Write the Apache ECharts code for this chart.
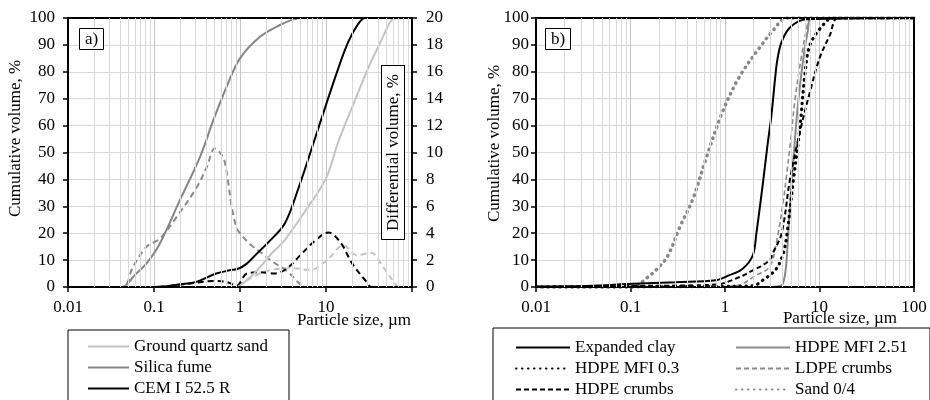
<!DOCTYPE html>
<html><head><meta charset="utf-8">
<script src="https://cdn.jsdelivr.net/npm/echarts@6/dist/echarts.min.js"></script>
<style>html,body{margin:0;padding:0;background:#fff}#c{width:930px;height:400px}</style>
</head><body><div id="c"></div>
<script>
// ---------- data (particle size in µm, volume in %) ----------
// Chart a) cumulative (left axis) and differential (right axis)
const quartzX      = [0.01, 0.9, 1.0, 1.3, 1.71, 2.26, 2.92, 3.33, 5.66, 10, 13.9, 19.9, 30.9, 45, 58.1, 70, 100];
const quartzCum    = [0, 0, 0.5, 3.5, 7.4, 12, 15.5, 17.5, 28, 40.4, 54, 66.4, 81.3, 92.4, 99.3, 100, 100];
const quartzDiffX  = [0.01, 0.9, 1.0, 1.43, 2.2, 4.2, 6.5, 10.3, 16, 22.7, 33.5, 46, 66, 73, 100];
const quartzDiff   = [0, 0, 0.2, 0.75, 1.25, 1.4, 1.25, 2.0, 3.1, 2.36, 2.55, 1.5, 0.13, 0, 0];

const silicaX      = [0.01, 0.043, 0.05, 0.06, 0.082, 0.117, 0.2, 0.343, 0.49, 0.7, 1.0, 1.71, 2.92, 4.2, 5.5, 100];
const silicaCum    = [0, 0, 1.5, 4.5, 8.8, 16.2, 32.3, 48.4, 62, 74.5, 85, 93, 97.4, 99.5, 100, 100];
const silicaDiffX  = [0.01, 0.043, 0.057, 0.082, 0.117, 0.183, 0.313, 0.41, 0.51, 0.64, 0.72, 0.8, 0.91, 1.0, 1.3, 1.71, 2.5, 3.5, 5, 5.5, 100];
const silicaDiff   = [0, 0, 1.5, 3.0, 3.6, 5.2, 7.4, 8.9, 10.3, 9.6, 8, 6, 4.4, 4.0, 3.2, 2.6, 1.8, 1.2, 0.2, 0, 0];

const cemX         = [0.01, 0.1, 0.14, 0.2, 0.31, 0.53, 0.76, 0.95, 1.2, 1.57, 2.26, 3.33, 4.78, 6.82, 10, 13.9, 18.2, 23.9, 28.5, 100];
const cemCum       = [0, 0, 0.3, 1, 1.9, 5.0, 6.2, 6.8, 8.7, 12.4, 17.4, 23.7, 36.7, 51.5, 67.7, 81.3, 91.2, 98, 100, 100];
const cemDiffX     = [0.01, 0.1, 0.26, 0.49, 0.7, 0.91, 1.2, 1.71, 2.5, 3.5, 5, 7.5, 10.6, 14.6, 20.2, 29.7, 34, 100];
const cemDiff      = [0, 0, 0.25, 0.45, 0.37, 0.1, 1.0, 1.1, 1.0, 1.37, 2.35, 3.45, 4.05, 3.35, 1.74, 0.37, 0, 0];

// Chart b) cumulative
const clayX        = [0.01, 0.034, 0.106, 0.3, 0.8, 1.1, 1.54, 1.97, 2.15, 2.53, 2.8, 3.1, 3.4, 3.6, 3.98, 4.87, 7.3, 100];
const clayCum      = [0.2, 0.4, 1.2, 1.8, 2.5, 4.3, 6.8, 11.8, 20, 39.2, 52, 63.9, 78, 85, 91.2, 96.5, 99.5, 100];
const hdpe251X     = [0.01, 3.0, 3.8, 4.1, 4.4, 4.6, 5.0, 5.5, 6.0, 6.75, 7.5, 8.2, 100];
const hdpe251Cum   = [0, 0, 0.4, 1.2, 6.8, 16, 36, 55, 70, 85, 95, 100, 100];
const hdpe03X      = [0.01, 1.0, 2.0, 2.51, 3.0, 3.5, 4.1, 4.5, 5.27, 6.2, 7.0, 7.94, 10.9, 13.8, 100];
const hdpe03Cum    = [0, 0.2, 0.5, 2.5, 4.5, 6.8, 12, 19, 39.2, 59, 78.8, 90, 97.4, 100, 100];
const ldpeX        = [0.01, 1.0, 1.44, 2.1, 2.95, 3.52, 4.14, 4.5, 4.87, 5.52, 6.48, 7.6, 8.2, 100];
const ldpeCum      = [0, 0.3, 0.8, 4.3, 7.4, 17, 32, 42, 52, 70, 86.2, 98.6, 100, 100];
const hdpeCrX      = [0.01, 0.114, 0.8, 1.3, 1.97, 2.95, 3.25, 3.98, 4.87, 6.2, 7.94, 10, 12.9, 15.8, 100];
const hdpeCrCum    = [0.1, 0.4, 0.9, 3.1, 6.2, 9.9, 13, 20, 40, 57.7, 72.6, 85, 93.7, 100, 100];
const sandX        = [0.01, 0.1, 0.116, 0.146, 0.2, 0.25, 0.334, 0.46, 0.64, 0.96, 1.44, 2.36, 3.25, 4.5, 100];
const sandCum      = [0, 0, 0.5, 3.1, 7.4, 11.8, 22.4, 33, 48.5, 65.8, 78.5, 89.3, 95.5, 100, 100];

// axis ticks / labels
const xTickValues  = [0.01, 0.1, 1, 10, 100];
const xTickLabelsA = ['0.01', '0.1', '1', '10', ''];
const xTickLabelsB = ['0.01', '0.1', '1', '10', '100'];
const minorGridX   = [0.02,0.03,0.04,0.05,0.06,0.07,0.08,0.09, 0.2,0.3,0.4,0.5,0.6,0.7,0.8,0.9,
                      2,3,4,5,6,7,8,9, 20,30,40,50,60,70,80,90];

// ---------- chart ----------
const FONT = 'Liberation Serif';
const txt = {fontFamily: FONT, fontSize: 17, color: '#000'};
function pairs(xs, ys) { return xs.map((x, i) => [x, ys[i]]); }
function labelOf(labels) {
  return v => { const i = xTickValues.findIndex(t => Math.abs(Math.log10(t) - Math.log10(v)) < 1e-6); return i < 0 ? '' : labels[i]; };
}

function xAxis(grid, labels) {
  return {
    type: 'log', logBase: 10, min: 0.01, max: 100, gridIndex: grid, splitNumber: 4,
    nameLocation: 'end', name: 'Particle size, µm', nameMoveOverlap: false,
    axisLine: {show: true, lineStyle: {color: '#000', width: 2}},
    axisTick: {show: true, inside: false, length: 5, lineStyle: {color: '#000', width: 1.5}},
    axisLabel: Object.assign({margin: 12, formatter: labelOf(labels)}, txt),
    splitLine: {show: true, lineStyle: {color: '#c4c4c4', width: 1}},
    minorTick: {show: false}, minorSplitLine: {show: false}
  };
}
function yAxisCum(grid, gap, margin, shift) {
  return {
    type: 'value', min: 0, max: 100, interval: 10, gridIndex: grid, position: 'left',
    name: 'Cumulative volume, %', nameLocation: 'middle', nameGap: gap, nameMoveOverlap: false,
    nameTextStyle: Object.assign({padding: [0, 0, 0, shift]}, txt),
    axisLine: {show: true, lineStyle: {color: '#000', width: 2}},
    axisTick: {show: true, inside: false, length: 5, lineStyle: {color: '#000', width: 1.5}},
    axisLabel: Object.assign({margin: margin}, txt),
    splitLine: {show: true, lineStyle: {color: '#d9d9d9', width: 1}}
  };
}

const xa = xAxis(0, xTickLabelsA);
xa.nameGap = -1;
xa.nameTextStyle = Object.assign({align: 'right', verticalAlign: 'top', padding: [25, 0, 0, 0]}, txt);
const xb = xAxis(1, xTickLabelsB);
xb.nameGap = -17;
xb.nameTextStyle = Object.assign({align: 'right', verticalAlign: 'top', padding: [23, 0, 0, 0]}, txt);

function line(name, xs, ys, xi, yi, color, width, type, z) {
  return {
    name: name, type: 'line', xAxisIndex: xi, yAxisIndex: yi, data: pairs(xs, ys),
    symbol: 'none', smooth: 0.35, z: z || 3, silent: true,
    lineStyle: {color: color, width: width, type: type || 'solid', cap: (Array.isArray(type) && type[0] < 1) ? 'round' : 'butt'},
    itemStyle: {color: color}
  };
}
function minorGrid(xi, yi) {
  return {
    type: 'line', xAxisIndex: xi, yAxisIndex: yi, data: [], z: 1, silent: true,
    markLine: {
      silent: true, symbol: ['none', 'none'], animation: false, label: {show: false},
      lineStyle: {color: '#d9d9d9', width: 1, type: 'solid'},
      emphasis: {disabled: true},
      data: minorGridX.map(v => ({xAxis: v}))
    }
  };
}

const legendBase = {
  orient: 'vertical', borderColor: '#000', borderWidth: 1, backgroundColor: '#fff',
  itemHeight: 14, itemGap: 4, selectedMode: false, height: 120,
  itemStyle: {opacity: 0},
  textStyle: Object.assign({lineHeight: 17, width: 150, overflow: 'none'}, txt)
};

const option = {
  animation: false,
  backgroundColor: '#fff',
  title: [
    {text: 'a)', left: 79, top: 28, padding: [3, 6, 2, 6], borderColor: '#000', borderWidth: 1, backgroundColor: '#fff',
     textStyle: Object.assign({fontWeight: 'normal'}, txt)},
    {text: 'b)', left: 545, top: 28, padding: [3, 6, 2, 6], borderColor: '#000', borderWidth: 1, backgroundColor: '#fff',
     textStyle: Object.assign({fontWeight: 'normal'}, txt)}
  ],
  grid: [
    {left: 68, right: 518, top: 18, bottom: 113, show: true, z: 5, borderColor: '#000', borderWidth: 2, backgroundColor: 'transparent'},
    {left: 536, right: 16, top: 18, bottom: 113, show: true, z: 5, borderColor: '#000', borderWidth: 2, backgroundColor: 'transparent'}
  ],
  xAxis: [xa, xb],
  yAxis: [
    yAxisCum(0, 44, 13, 28),
    {
      type: 'value', min: 0, max: 20, interval: 2, gridIndex: 0, position: 'right', z: 6,
      name: 'Differential volume, %', nameLocation: 'middle', nameGap: -30, nameRotate: 90, nameMoveOverlap: false,
      nameTextStyle: Object.assign({borderColor: '#000', borderWidth: 1, backgroundColor: '#fff', padding: [3, 8, 2, 8]}, txt),
      axisLine: {show: true, lineStyle: {color: '#000', width: 2}},
      axisTick: {show: true, inside: false, length: 5, lineStyle: {color: '#000', width: 1.5}},
      axisLabel: Object.assign({margin: 14}, txt),
      splitLine: {show: false}
    },
    yAxisCum(1, 33, 7, 18)
  ],
  legend: [
    Object.assign({}, legendBase, {
      left: 68, top: 330, itemWidth: 41, padding: [8, 5, 40, 19],
      data: ['Ground quartz sand', 'Silica fume', 'CEM I 52.5 R']
    }),
    Object.assign({}, legendBase, {
      left: 493, top: 328, itemWidth: 54, padding: [11, 205, 40, 22],
      data: ['Expanded clay', 'HDPE MFI 0.3', 'HDPE crumbs']
    }),
    Object.assign({}, legendBase, {
      left: 735, top: 328, itemWidth: 54, padding: [11, 0, 0, 0], borderWidth: 0, backgroundColor: 'transparent',
      data: ['HDPE MFI 2.51', 'LDPE crumbs', 'Sand 0/4']
    })
  ],
  series: [
    minorGrid(0, 0),
    minorGrid(1, 2),
    // chart a) differential (dashed, right axis)
    line('Ground quartz sand diff', quartzDiffX, quartzDiff, 0, 1, '#c3c3c3', 2, [6, 4]),
    line('Silica fume diff', silicaDiffX, silicaDiff, 0, 1, '#8a8a8a', 2, [6, 4]),
    line('CEM I 52.5 R diff', cemDiffX, cemDiff, 0, 1, '#000', 2, [6, 4]),
    // chart a) cumulative
    line('Ground quartz sand', quartzX, quartzCum, 0, 0, '#c3c3c3', 2),
    line('Silica fume', silicaX, silicaCum, 0, 0, '#858585', 2),
    line('CEM I 52.5 R', cemX, cemCum, 0, 0, '#000', 2),
    // chart b)
    line('Sand 0/4', sandX, sandCum, 1, 2, '#888888', 3.5, [0.5, 5.5]),
    line('LDPE crumbs', ldpeX, ldpeCum, 1, 2, '#8a8a8a', 1.6, [5, 3]),
    line('HDPE MFI 2.51', hdpe251X, hdpe251Cum, 1, 2, '#8a8a8a', 2),
    line('HDPE crumbs', hdpeCrX, hdpeCrCum, 1, 2, '#000', 2, [5, 3]),
    line('HDPE MFI 0.3', hdpe03X, hdpe03Cum, 1, 2, '#000', 3.2, [0.5, 5.5]),
    line('Expanded clay', clayX, clayCum, 1, 2, '#000', 2)
  ]
};

const chart = echarts.init(document.getElementById('c'), null, {renderer: 'canvas'});
chart.setOption(option);
</script>
</body></html>
